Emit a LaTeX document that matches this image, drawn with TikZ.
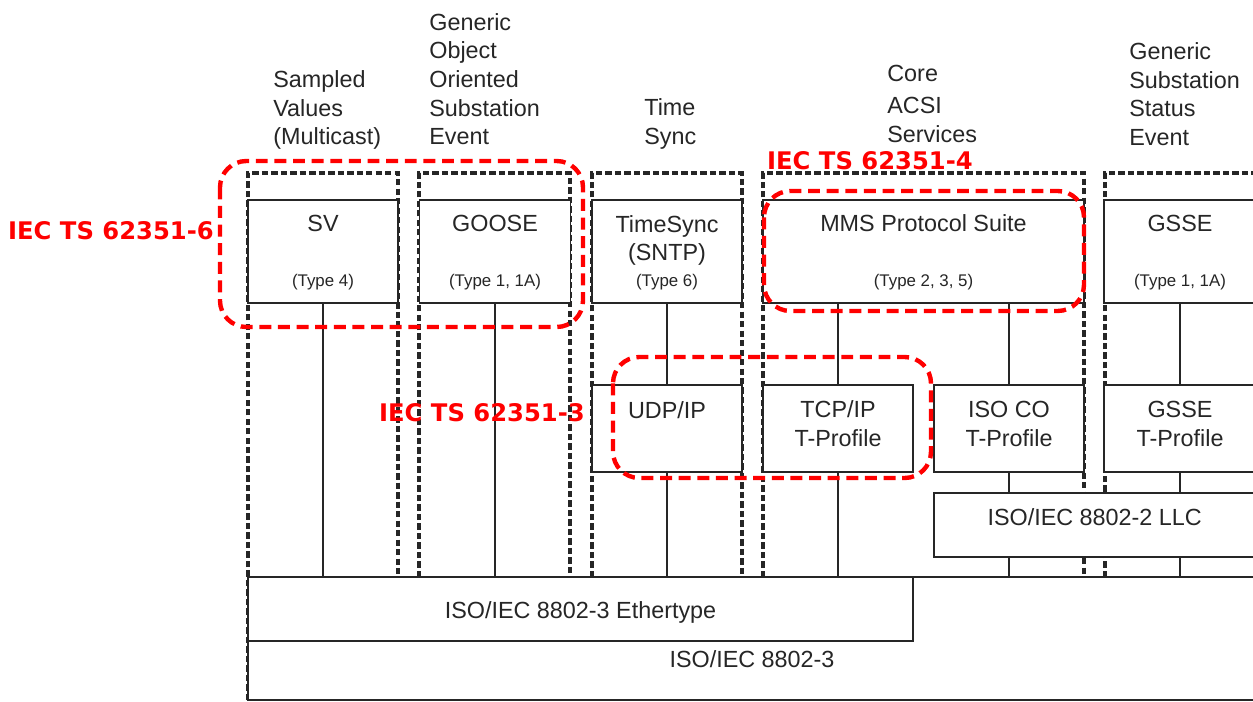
\documentclass[tikz,border=0pt]{standalone}
\usepackage{fontspec}
\setmainfont{Liberation Sans}
\newfontfamily\lblfont{DejaVu Sans}

\begin{document}
\begin{tikzpicture}[
    x=0.02cm, y=-0.02cm,
    box/.style={draw=black!85, line width=1pt, fill=white, inner sep=0pt, minimum width=#1*0.02cm},
    pbox/.style={box=#1, minimum height=103*0.02cm},
    tbox/.style={box=#1, minimum height=87*0.02cm},
    lbox/.style={box=#1, minimum height=64*0.02cm},
    ptext/.style={inner sep=0pt, anchor=base, align=center, text=black!85, font=\fontsize{13.3}{16.3}\selectfont},
    ptype/.style={inner sep=0pt, anchor=base, text=black!85, font=\fontsize{9.6}{11}\selectfont},
    hdr/.style={inner sep=0pt, anchor=north west, align=left, text=black!85, font=\fontsize{13.3}{16.3}\selectfont},
    colframe/.style={draw=black!85, line width=1.8pt, dash pattern=on 3.6pt off 1.8pt},
    grp/.style={draw=red, line width=2.5pt, dash pattern=on 6.8pt off 3.8pt, rounded corners=15pt},
    speclbl/.style={inner sep=0pt, anchor=base west, text=red, font=\lblfont\bfseries\fontsize{13.8}{16}\selectfont},
    link/.style={draw=black!85, line width=1pt}
]
\useasboundingbox (0,0) rectangle (1253,702);
\clip (0,0) rectangle (1253,702);

% column headers
\node[hdr] (hsv) at (273,70.3) {Sampled\\Values\\(Multicast)};
\node[hdr] (hgoose) at (429,13) {Generic\\Object\\Oriented\\Substation\\Event};
\node[hdr] (hts) at (644,98.5) {Time\\Sync};
\node[hdr] (hcore) at (887,64.7) {Core\\[2pt]ACSI\\Services};
\node[hdr] (hgsse) at (1129,42.3) {Generic\\Substation\\Status\\Event};

% dashed column frames
\draw[colframe] (248,700) -- (248,173) -- (398,173) -- (398,577);
\draw[colframe] (419,577) |- (570,173) -- (570,577);
\draw[colframe] (592,577) |- (742,173) -- (742,577);
\draw[colframe] (763,577) |- (1084,173) -- (1084,577);
\draw[colframe] (1105,577) |- (1260,173);

% link layers
\node[box=1008, minimum height=123*0.02cm] (mac) at (752,638.5) {};
\node[ptext] (mactext) at (752,667.3) {ISO/IEC 8802-3};
\node[lbox=665] (eth) at (580.5,609) {};
\node[ptext] (ethtext) at (580.5,618.3) {ISO/IEC 8802-3 Ethertype};
\node[lbox=322] (llc) at (1095,525) {};
\node[ptext] (llctext) at (1094.7,525.7) {ISO/IEC 8802-2 LLC};

% protocols
\node[pbox=150] (sv) at (323,251.5) {};
\node[ptext] (svname) at (323,232) {SV};
\node[ptype] (svtype) at (323,287) {(Type 4)};
\node[pbox=151] (goose) at (495,251.5) {};
\node[ptext] (goosename) at (495,232) {GOOSE};
\node[ptype] (goosetype) at (495,287) {(Type 1, 1A)};
\node[pbox=150] (ts) at (667,251.5) {};
\node[ptext] (tsname) at (667,261) {TimeSync\\(SNTP)};
\node[ptype] (tstype) at (667,287) {(Type 6)};
\node[pbox=321] (mms) at (923.5,251.5) {};
\node[ptext] (mmsname) at (923.5,232) {MMS Protocol Suite};
\node[ptype] (mmstype) at (923.5,287) {(Type 2, 3, 5)};
\node[pbox=152] (gsse) at (1180,251.5) {};
\node[ptext] (gssename) at (1180,232) {GSSE};
\node[ptype] (gssetype) at (1180,287) {(Type 1, 1A)};

% transport profiles
\node[tbox=150] (udp) at (667,428.5) {};
\node[ptext] (udptext) at (667,418) {UDP/IP};
\node[tbox=150] (tcp) at (838,428.5) {};
\node[ptext] (tcptext) at (838,446.5) {TCP/IP\\T-Profile};
\node[tbox=150] (isoco) at (1009,428.5) {};
\node[ptext] (isocotext) at (1009,446.5) {ISO CO\\T-Profile};
\node[tbox=152] (gsset) at (1180,428.5) {};
\node[ptext] (gssettext) at (1180,446.5) {GSSE\\T-Profile};

% stack links
\draw[link] (sv.south) -- (sv.south |- eth.north);
\draw[link] (goose.south) -- (goose.south |- eth.north);
\draw[link] (ts.south) -- (udp.north);
\draw[link] (udp.south) -- (udp.south |- eth.north);
\draw[link] (tcp.north |- mms.south) -- (tcp.north);
\draw[link] (tcp.south) -- (tcp.south |- eth.north);
\draw[link] (isoco.north |- mms.south) -- (isoco.north);
\draw[link] (isoco.south) -- (isoco.south |- llc.north);
\draw[link] (isoco.south |- llc.south) -- (isoco.south |- mac.north);
\draw[link] (gsse.south) -- (gsset.north);
\draw[link] (gsset.south) -- (gsset.south |- llc.north);
\draw[link] (gsset.south |- llc.south) -- (gsset.south |- mac.north);

% security parts
\draw[grp] (220,161) rectangle (583,327);
\draw[grp] (764,191) rectangle (1084,311);
\draw[grp] (613,357) rectangle (931,478);
\node[speclbl] (iec6) at (7.8,239.3) {IEC TS 62351-6};
\node[speclbl] (iec4) at (766.8,170) {IEC TS 62351-4};
\node[speclbl] (iec3) at (378.8,421.7) {IEC TS 62351-3};

\end{tikzpicture}
\end{document}
